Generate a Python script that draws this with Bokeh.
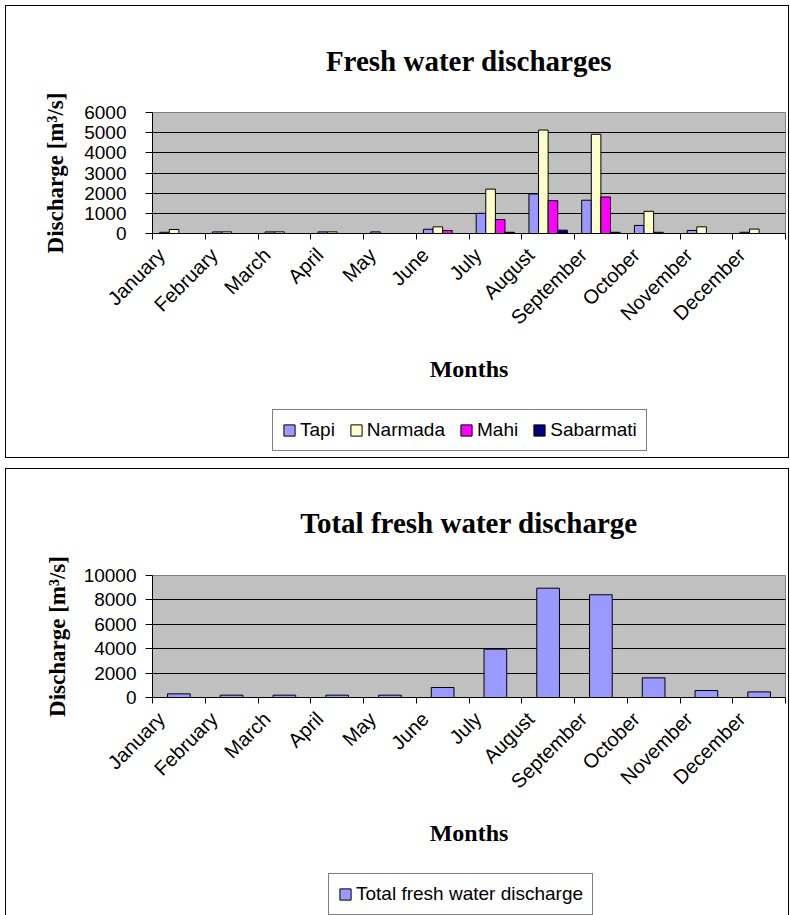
import math

from bokeh.embed import file_html
from bokeh.layouts import column
from bokeh.models import (ColumnDataSource, FixedTicker, Legend, LegendItem,
                          Range1d, Title)
from bokeh.plotting import figure
from bokeh.resources import INLINE
from bokeh.transform import dodge

# Monthly fresh water discharge per river [m3/s]
months = ["January", "February", "March", "April", "May", "June",
          "July", "August", "September", "October", "November", "December"]
tapi = [60, 80, 80, 80, 80, 210, 1000, 1960, 1650, 400, 150, 60]
narmada = [200, 80, 80, 80, 0, 330, 2200, 5130, 4920, 1100, 330, 220]
mahi = [0, 0, 0, 0, 0, 150, 690, 1630, 1810, 60, 0, 0]
sabarmati = [0, 0, 0, 0, 0, 0, 60, 165, 60, 0, 0, 0]
total = [300, 190, 190, 190, 190, 820, 3960, 8960, 8420, 1610, 570, 460]

rivers = ["Tapi", "Narmada", "Mahi", "Sabarmati"]
river_colors = ["#9999FF", "#FFFFCC", "#FF00FF", "#000080"]
total_color = "#9999FF"
top_ticks = [0, 1000, 2000, 3000, 4000, 5000, 6000]
bottom_ticks = [0, 2000, 4000, 6000, 8000, 10000]

SANS = "Liberation Sans"
SERIF = "Liberation Serif"

centers = [i + 0.5 for i in range(len(months))]
edges = list(range(len(months) + 1))
# rotated month names end a little left of the category centre
label_pos = [c - 0.33 for c in centers]

src = ColumnDataSource(dict(x=centers, Tapi=tapi, Narmada=narmada, Mahi=mahi,
                            Sabarmati=sabarmati, total=total))


def frame_lines(*segments):
    """Thin black lines (x, y, w, h) painted as the element background."""
    line = "linear-gradient(#000,#000)"
    return {"background": ", ".join(
        f"{line} {x}px {y}px / {w}px {h}px no-repeat" for x, y, w, h in segments)}


def chart_figure(title, height, y_max, yticks, left, right, top, bottom,
                 y_standoff, title_standoff, ytitle_standoff, ytitle_offset,
                 months_gap, lines):
    p = figure(width=790, height=height, output_backend="svg",
               toolbar_location=None,
               x_range=Range1d(0, len(months)), y_range=Range1d(0, y_max),
               min_border_left=left, min_border_right=right,
               min_border_top=top, min_border_bottom=bottom,
               styles=frame_lines(*lines))
    p.background_fill_color = "#C0C0C0"
    p.border_fill_color = None
    p.outline_line_color = "#808080"
    p.outline_line_width = 1

    p.title.text = title
    p.title.align = "center"
    p.title.offset = -64
    p.title.text_font = SERIF
    p.title.text_font_style = "bold"
    p.title.text_font_size = "29px"
    p.title.text_color = "black"
    p.title.standoff = title_standoff

    p.xgrid.visible = False
    p.ygrid.ticker = FixedTicker(ticks=yticks)
    p.ygrid.grid_line_color = "black"
    p.ygrid.grid_line_width = 1

    xa = p.xaxis[0]
    xa.ticker = FixedTicker(ticks=label_pos, minor_ticks=edges)
    xa.major_label_overrides = {c: m for c, m in zip(label_pos, months)}
    xa.major_label_orientation = math.pi / 4
    xa.major_label_standoff = 12
    xa.major_tick_out = 0
    xa.major_tick_in = 0
    xa.minor_tick_out = 6
    xa.minor_tick_in = 0
    xa.minor_tick_line_color = "black"
    xa.axis_line_color = "black"
    xa.major_label_text_font = SANS
    xa.major_label_text_font_size = "20px"
    xa.major_label_text_color = "black"

    ya = p.yaxis[0]
    ya.ticker = FixedTicker(ticks=yticks)
    ya.major_tick_out = 7
    ya.major_tick_in = 0
    ya.minor_tick_line_color = None
    ya.axis_line_color = "black"
    ya.major_label_standoff = y_standoff
    ya.major_label_text_font = SANS
    ya.major_label_text_font_size = "19px"
    ya.major_label_text_color = "black"

    # vertical axis caption, left of the tick labels
    p.add_layout(Title(text="Discharge [m³/s]", align="center", text_font=SERIF,
                       text_font_style="bold", text_font_size="23px",
                       text_color="black", standoff=ytitle_standoff,
                       offset=ytitle_offset), "left")
    # horizontal axis caption, under the rotated month names
    p.add_layout(Title(text="Months", align="center", text_font=SERIF,
                       text_font_style="bold", text_font_size="24px",
                       text_color="black", standoff=months_gap), "below")
    return p


def legend_strip(height, names, colors, loc, lines):
    """Separate strip holding the legend box under a chart."""
    f = figure(width=790, height=height, output_backend="svg",
               toolbar_location=None, x_range=Range1d(0, 1), y_range=Range1d(0, 1),
               x_axis_type=None, y_axis_type=None, min_border=0,
               styles=frame_lines(*lines))
    f.title.visible = False
    f.outline_line_color = None
    f.background_fill_color = None
    f.border_fill_color = None
    f.grid.visible = False
    items = []
    for name, color in zip(names, colors):
        # zero-height swatch source, outside the visible range
        r = f.vbar(x=[-1], top=[0], width=0.1, fill_color=color, line_color="black",
                   line_width=1)
        items.append(LegendItem(label=name, renderers=[r]))
    legend = Legend(items=items, location=loc, orientation="horizontal")
    legend.border_line_color = "black"
    legend.border_line_width = 1
    legend.background_fill_color = "white"
    legend.background_fill_alpha = 1
    legend.label_text_font = SANS
    legend.label_text_font_size = "19px"
    legend.label_text_color = "black"
    legend.glyph_width = 14
    legend.glyph_height = 14
    legend.label_standoff = 4
    legend.spacing = 14
    legend.padding = 9
    legend.margin = 0
    f.add_layout(legend)
    return f


# Per-river chart
p1 = chart_figure("Fresh water discharges", 395, 6000, top_ticks,
                  left=152, right=5, top=112, bottom=162, y_standoff=19,
                  title_standoff=72, ytitle_standoff=27, ytitle_offset=9,
                  months_gap=28,
                  lines=[(5, 5, 784, 1), (5, 5, 1, 400), (788, 5, 1, 400)])
group = 0.727
bw = group / len(rivers)
for k, (name, color) in enumerate(zip(rivers, river_colors)):
    off = -group / 2 + bw * (k + 0.5)
    p1.vbar(x=dodge("x", off, range=p1.x_range), top=name, width=bw, source=src,
            fill_color=color, line_color="black", line_width=1)
leg1 = legend_strip(67, rivers, river_colors, (120, 11),
                    lines=[(5, 0, 1, 63), (788, 0, 1, 63), (5, 62, 784, 1)])

# Total chart
p2 = chart_figure("Total fresh water discharge", 400, 10000, bottom_ticks,
                  left=152, right=4, top=113, bottom=165, y_standoff=9,
                  title_standoff=73, ytitle_standoff=22, ytitle_offset=12,
                  months_gap=29,
                  lines=[(5, 6, 784, 1), (5, 6, 1, 400), (788, 6, 1, 400)])
p2.vbar(x="x", top="total", width=0.43, source=src,
        fill_color=total_color, line_color="black", line_width=1)
leg2 = legend_strip(53, ["Total fresh water discharge"], [total_color], (176, 0),
                    lines=[(5, 0, 1, 60), (788, 0, 1, 60)])

layout = column(p1, leg1, p2, leg2, spacing=0)
open("out.html", "w").write(file_html(layout, INLINE))
